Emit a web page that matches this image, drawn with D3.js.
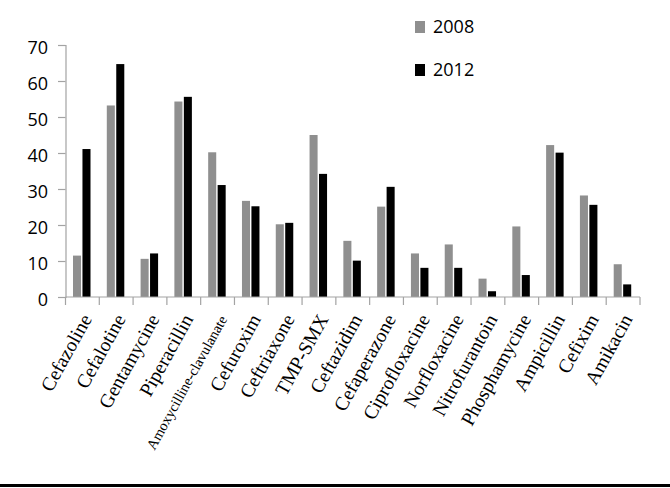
<!DOCTYPE html>
<html><head><meta charset="utf-8">
<script src="https://cdn.jsdelivr.net/npm/d3@7"></script>
<style>body{margin:0;background:#fff}svg{display:block}</style>
</head><body>
<script>
const categories = ["Cefazoline","Cefalotine","Gentamycine","Piperacillin","Amoxycilline-clavulanate","Cefuroxim","Ceftriaxone","TMP-SMX","Ceftazidim","Cefaperazone","Ciprofloxacine","Norfloxacine","Nitrofurantoin","Phosphamycine","Ampicillin","Cefixim","Amikacin"];
const values2008 = [11.5,53.2,10.6,54.3,40.2,26.7,20.2,45.0,15.6,25.1,12.1,14.6,5.1,19.6,42.2,28.2,9.1];
const values2012 = [41.1,64.7,12.1,55.6,31.1,25.2,20.6,34.2,10.1,30.6,8.1,8.1,1.6,6.1,40.1,25.6,3.5];
const seriesNames = ["2008","2012"];
const yTicks = [0,10,20,30,40,50,60,70];

const W=670,H=488;
const axisColor="#a3a3a3";
const svg=d3.select("body").append("svg").attr("width",W).attr("height",H);
const x=d3.scaleBand().domain(categories).range([65.5,640]).paddingInner(0).paddingOuter(0);
const y=d3.scaleLinear().domain([0,70]).range([297,45]);
const colors=["#8f8f8f","#000000"];
const inner=d3.scaleBand().domain(seriesNames).range([7.5,25]).paddingInner(0.15);

// y axis
const yAx=svg.append("g").attr("transform","translate(65.5,0)")
  .call(d3.axisLeft(y).tickValues(yTicks).tickSize(7.5).tickPadding(10));
yAx.select(".domain").attr("stroke",axisColor).attr("stroke-width",1.2);
yAx.selectAll(".tick line").attr("stroke",axisColor).attr("stroke-width",1.2);
yAx.selectAll("text").attr("font-family","Open Sans, sans-serif").attr("font-size",18).attr("fill","#000").attr("dy","0.46em");

// bars
const data=categories.map((c,i)=>({c,v:[values2008[i],values2012[i]]}));
const g=svg.append("g");
data.forEach(d=>{
  seriesNames.forEach((s,j)=>{
    g.append("rect").attr("x",x(d.c)+inner(s)).attr("width",inner.bandwidth())
      .attr("y",y(d.v[j])).attr("height",y(0)-y(d.v[j])).attr("fill",colors[j]);
  });
});

// x axis
const xAx=svg.append("g").attr("transform","translate(0,297)");
xAx.append("line").attr("x1",x.range()[0]).attr("x2",x.range()[1]).attr("y1",0).attr("y2",0).attr("stroke",axisColor).attr("stroke-width",1.2);
const bounds=categories.map(c=>x(c)).concat([x.range()[1]]);
xAx.selectAll("line.tk").data(bounds).enter().append("line").attr("class","tk")
  .attr("x1",d=>d).attr("x2",d=>d).attr("y1",0).attr("y2",8).attr("stroke",axisColor).attr("stroke-width",1.2);
xAx.selectAll("text").data(categories).enter().append("text")
  .attr("transform",d=>`translate(${x(d)+x.bandwidth()/2+10},${22}) rotate(-61)`)
  .attr("text-anchor","end")
  .attr("font-family","Liberation Serif, Times New Roman, serif")
  .attr("font-size",d=>d.length>15?14.5:19.5)
  .attr("fill","#000")
  .text(d=>d);

// legend
const leg=svg.append("g");
seriesNames.forEach((s,j)=>{
  const yy=21+j*43;
  leg.append("rect").attr("x",415).attr("y",yy).attr("width",10).attr("height",12).attr("fill",colors[j]);
  leg.append("text").attr("x",433).attr("y",yy+11.5).attr("font-family","Open Sans, sans-serif")
    .attr("font-size",18).attr("fill","#000").text(s);
});

// bottom rule
svg.append("rect").attr("x",0).attr("y",484).attr("width",W).attr("height",3).attr("fill","#000");
</script>
</body></html>
